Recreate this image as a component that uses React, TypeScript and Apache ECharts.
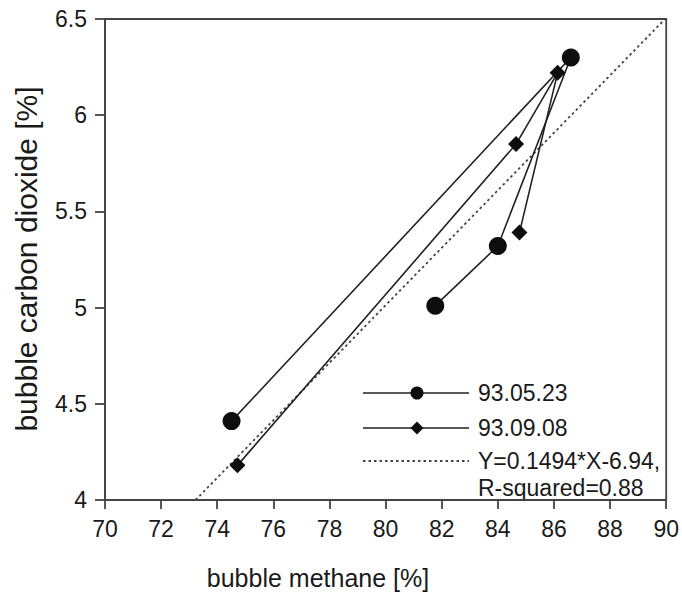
import React, { useEffect, useRef } from "react";
import * as echarts from "echarts";

const xTicks = { min: 70, max: 90, interval: 2 };
const yTicks = { min: 4, max: 6.5, interval: 0.5 };

const series1Name = "93.05.23";
const series1: [number, number][] = [
  [74.51, 4.41],
  [86.6, 6.3],
  [84.0, 5.32],
  [81.77, 5.01],
];

const series2Name = "93.09.08";
const series2: [number, number][] = [
  [74.72, 4.18],
  [84.65, 5.85],
  [86.13, 6.22],
  [84.77, 5.39],
];

const fitSlope = 0.1494;
const fitIntercept = -6.94;
const fitLabel1 = "Y=0.1494*X-6.94,";
const fitLabel2 = "R-squared=0.88";
const fitXStart = (4 - fitIntercept) / fitSlope;
const fitXEnd = (6.5 - fitIntercept) / fitSlope;
const fitLine: [number, number][] = [
  [fitXStart, fitSlope * fitXStart + fitIntercept],
  [fitXEnd, fitSlope * fitXEnd + fitIntercept],
];

const xTitle = "bubble methane [%]";
const yTitle = "bubble carbon dioxide [%]";

const FONT = "'Liberation Sans', Arial, Helvetica, sans-serif";
const TEXT = "#1a1a1a";
const AXIS = "#444";
const LINE = "#222";
const MARK = "#0d0d0d";
const DOT = "#444";

export default function App() {
  const ref = useRef<HTMLDivElement>(null);
  useEffect(() => {
    if (!ref.current) return;
    const chart = echarts.init(ref.current, null, { renderer: "svg" });
    const legendText = (x: number, y: number, t: string) => ({
      type: "text",
      x,
      y,
      style: { text: t, fontSize: 23, fontFamily: FONT, fill: TEXT, verticalAlign: "middle", align: "left" },
    });
    const legendLine = (y: number, dashed: boolean) => ({
      type: "line",
      shape: { x1: 363, y1: y, x2: 469, y2: y },
      style: { stroke: dashed ? DOT : LINE, lineWidth: dashed ? 1.8 : 1.6, lineDash: dashed ? [2.5, 3] : undefined },
    });
    chart.setOption({
      animation: false,
      backgroundColor: "#fff",
      grid: {
        left: 105,
        right: 15,
        top: 19,
        bottom: 96,
        show: true,
        borderColor: AXIS,
        borderWidth: 1.8,
        backgroundColor: "transparent",
      },
      xAxis: {
        type: "value",
        min: xTicks.min,
        max: xTicks.max,
        interval: xTicks.interval,
        axisLine: { show: true, onZero: false, lineStyle: { color: AXIS, width: 1.8 } },
        axisTick: { show: true, inside: false, length: 9, lineStyle: { color: AXIS, width: 1.8 } },
        splitLine: { show: false },
        axisLabel: { fontSize: 23, fontFamily: FONT, color: TEXT, margin: 17 },
      },
      yAxis: {
        type: "value",
        min: yTicks.min,
        max: yTicks.max,
        interval: yTicks.interval,
        axisLine: { show: true, onZero: false, lineStyle: { color: AXIS, width: 1.8 } },
        axisTick: { show: true, inside: false, length: 10, lineStyle: { color: AXIS, width: 1.8 } },
        splitLine: { show: false },
        axisLabel: { fontSize: 23, fontFamily: FONT, color: TEXT, margin: 18 },
      },
      series: [
        {
          name: "fit",
          type: "line",
          data: fitLine,
          symbol: "none",
          lineStyle: { color: DOT, width: 1.8, type: [2.5, 3] },
          z: 1,
        },
        {
          name: series1Name,
          type: "line",
          data: series1,
          symbol: "circle",
          symbolSize: 18,
          itemStyle: { color: MARK },
          lineStyle: { color: LINE, width: 1.6 },
          z: 3,
        },
        {
          name: series2Name,
          type: "line",
          data: series2,
          symbol: "diamond",
          symbolSize: 16,
          itemStyle: { color: MARK },
          lineStyle: { color: LINE, width: 1.6 },
          z: 3,
        },
      ],
      graphic: [
        {
          type: "text",
          x: 318,
          y: 578,
          style: { text: xTitle, fontSize: 25, fontFamily: FONT, fill: TEXT, align: "center", verticalAlign: "middle" },
        },
        {
          type: "text",
          x: 26,
          y: 259,
          rotation: Math.PI / 2,
          style: { text: yTitle, fontSize: 30, fontFamily: FONT, fill: TEXT, align: "center", verticalAlign: "middle" },
        },
        legendLine(393, false),
        { type: "circle", shape: { cx: 417, cy: 393, r: 6.5 }, style: { fill: MARK } },
        legendText(478, 393, series1Name),
        legendLine(428, false),
        {
          type: "polygon",
          shape: { points: [[417, 421.5], [423.5, 428], [417, 434.5], [410.5, 428]] },
          style: { fill: MARK },
        },
        legendText(478, 428, series2Name),
        legendLine(461, true),
        legendText(478, 461, fitLabel1),
        legendText(478, 488, fitLabel2),
      ],
    });
    return () => chart.dispose();
  }, []);
  return (
    <div
      ref={ref}
      style={{ position: "fixed", left: 0, top: 0, width: 682, height: 596, background: "#fff" }}
    />
  );
}
